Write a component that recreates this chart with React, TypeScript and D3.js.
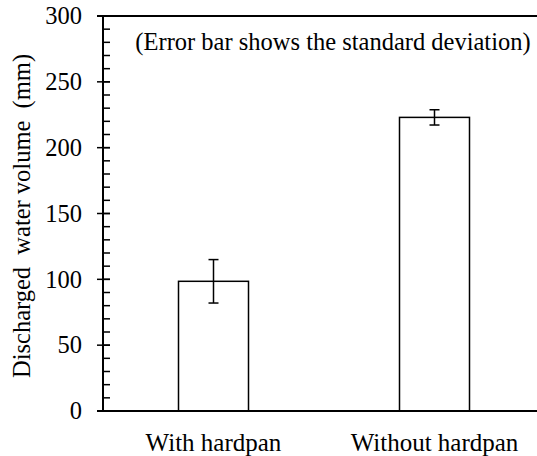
import React from "react";
import * as d3 from "d3";

// Discharged water volume by soil condition
const categories = ["With hardpan", "Without hardpan"];
const means = [98.5, 223];
const stdDevs = [16.5, 5.8];
const yMajorTicks = [0, 50, 100, 150, 200, 250, 300];
const yMinorTicks = d3.range(0, 301, 10);

const W = 537;
const H = 456;
const FONT = "'Liberation Serif', 'Times New Roman', serif";

export default function App() {
  const axisX = 103;
  const y = d3.scaleLinear().domain([0, 300]).range([411, 16]);
  const x = d3.scalePoint<string>().domain(categories).range([axisX, 545]).padding(0.5);
  const barW = 70;
  const capW = 10;

  return (
    <div style={{ position: "absolute", left: 0, top: 0 }}>
      <svg width={W} height={H} style={{ display: "block", background: "#fff", fontFamily: FONT }}>
        <rect width={W} height={H} fill="#fff" />

        {/* bars */}
        {categories.map((c, i) => (
          <rect
            key={c}
            x={x(c)! - barW / 2}
            y={y(means[i])}
            width={barW}
            height={y(0) - y(means[i])}
            fill="#fff"
            stroke="#000"
            strokeWidth={1.5}
          />
        ))}

        {/* error bars (± standard deviation) */}
        {categories.map((c, i) => {
          const cx = x(c)!;
          const hi = y(means[i] + stdDevs[i]);
          const lo = y(means[i] - stdDevs[i]);
          return (
            <g key={c} stroke="#000" strokeWidth={1.5}>
              <line x1={cx} x2={cx} y1={hi} y2={lo} />
              <line x1={cx - capW / 2} x2={cx + capW / 2} y1={hi} y2={hi} />
              <line x1={cx - capW / 2} x2={cx + capW / 2} y1={lo} y2={lo} />
            </g>
          );
        })}

        {/* frame lines: top and baseline */}
        <line x1={97} x2={W} y1={y(300)} y2={y(300)} stroke="#000" strokeWidth={2} />
        <line x1={97} x2={W} y1={y(0)} y2={y(0)} stroke="#000" strokeWidth={2} />

        {/* y axis */}
        <line x1={axisX} x2={axisX} y1={y(300)} y2={y(0)} stroke="#000" strokeWidth={2} />
        {yMinorTicks.map((t) => (
          <line key={"m" + t} x1={axisX} x2={axisX + 7} y1={y(t)} y2={y(t)} stroke="#000" strokeWidth={1.5} />
        ))}
        {yMajorTicks.map((t) => (
          <g key={"M" + t}>
            <line x1={axisX - 6} x2={axisX + 7} y1={y(t)} y2={y(t)} stroke="#000" strokeWidth={1.5} />
            <text x={82} y={y(t)} dy="0.34em" textAnchor="end" fontSize={24.5} fill="#000">
              {t}
            </text>
          </g>
        ))}

        {/* y axis title */}
        <text
          transform={`translate(30,216) rotate(-90)`}
          textAnchor="middle"
          fontSize={24.5}
          fill="#000"
          style={{ whiteSpace: "pre" }}
        >
          {"Discharged  water volume  (mm)"}
        </text>

        {/* category labels */}
        {categories.map((c) => (
          <text key={c} x={x(c)!} y={451} textAnchor="middle" fontSize={25} fill="#000">
            {c}
          </text>
        ))}

        {/* note */}
        <text x={333} y={50} textAnchor="middle" fontSize={24.5} fill="#000">
          (Error bar shows the standard deviation)
        </text>
      </svg>
    </div>
  );
}
